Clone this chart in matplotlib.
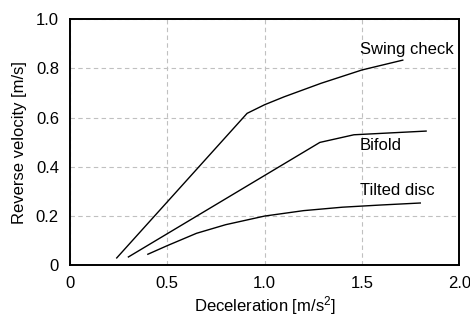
import numpy as np
import matplotlib
matplotlib.use('Agg')
import matplotlib.pyplot as plt

plt.rcParams['font.family'] = ['Liberation Sans', 'DejaVu Sans']
plt.rcParams['mathtext.fontset'] = 'custom'
plt.rcParams['mathtext.rm'] = 'Liberation Sans'
plt.rcParams['mathtext.it'] = 'Liberation Sans'

# Reverse velocity vs deceleration
swing_x = [0.24, 0.91, 1.0, 1.1, 1.29, 1.5, 1.71]
swing_y = [0.03, 0.617, 0.652, 0.684, 0.739, 0.793, 0.833]

bifold_x = [0.30, 1.284, 1.459, 1.83]
bifold_y = [0.034, 0.499, 0.53, 0.545]

tilted_x = [0.40, 0.5, 0.65, 0.8, 1.0, 1.2, 1.4, 1.6, 1.8]
tilted_y = [0.045, 0.08, 0.13, 0.165, 0.20, 0.222, 0.236, 0.245, 0.253]

labels = ['Swing check', 'Bifold', 'Tilted disc']
label_pos = [(1.49, 0.877), (1.49, 0.488), (1.49, 0.302)]

fig = plt.figure(figsize=(4.7, 3.22), dpi=100)
ax = fig.add_axes([0.149, 0.176, 0.828, 0.765])

for xs, ys in [(swing_x, swing_y), (bifold_x, bifold_y), (tilted_x, tilted_y)]:
    ax.plot(xs, ys, color='black', lw=1.0)

for lab, (lx, ly) in zip(labels, label_pos):
    ax.text(lx, ly, lab, fontsize=12, ha='left', va='center')

ax.set_xlim(0, 2.0)
ax.set_ylim(0, 1.0)
ax.set_xticks([0, 0.5, 1.0, 1.5, 2.0])
ax.set_xticklabels(['0', '0.5', '1.0', '1.5', '2.0'])
ax.set_yticks([0, 0.2, 0.4, 0.6, 0.8, 1.0])
ax.set_yticklabels(['0', '0.2', '0.4', '0.6', '0.8', '1.0'])
ax.tick_params(length=0, labelsize=12, pad=8)
ax.grid(True, color='#c0c0c0', linestyle='--', linewidth=0.8, dashes=(4, 3))
for s in ax.spines.values():
    s.set_linewidth(1.4)

ax.set_xlabel('Deceleration [m/s$^2$]', fontsize=12, labelpad=2)
ax.set_ylabel('Reverse velocity [m/s]', fontsize=12, labelpad=6)

fig.savefig('out.png', dpi=100)
